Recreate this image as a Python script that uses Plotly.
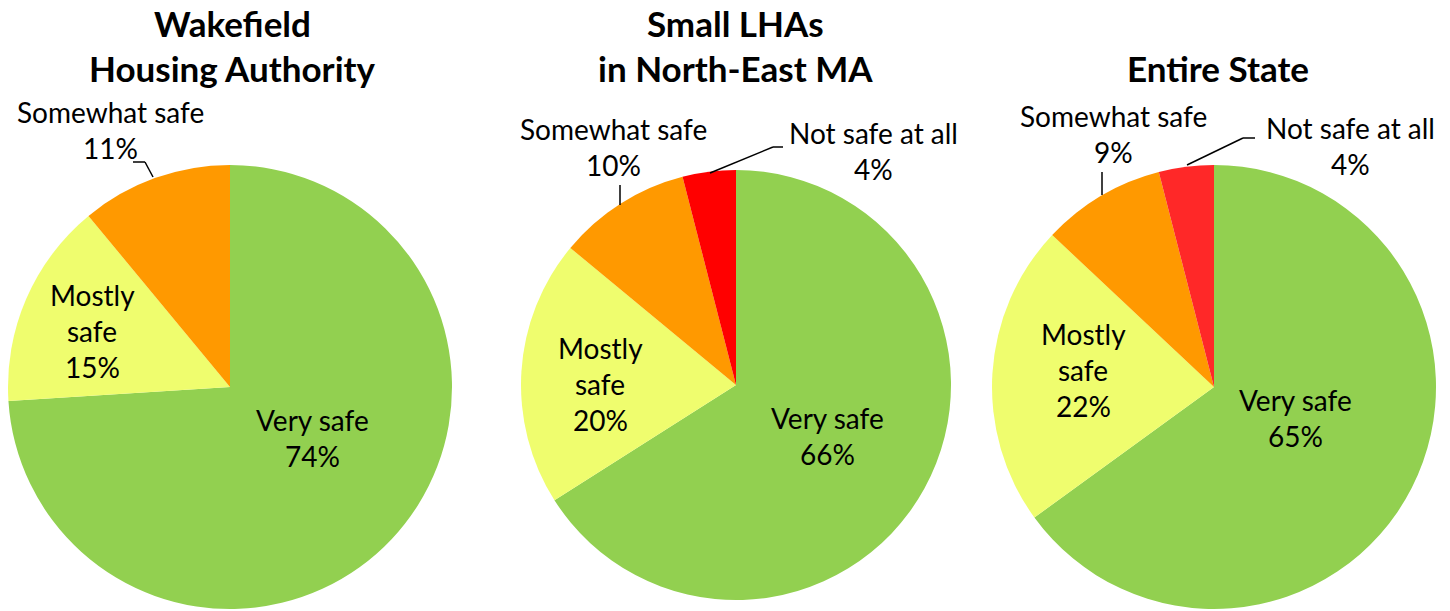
import plotly.graph_objects as go

W, H = 1450, 611
OFF = 0  # body margin removed via post_script

categories = ["Very safe", "Mostly safe", "Somewhat safe", "Not safe at all"]
wakefield = [74, 15, 11, 0]
small_lhas = [66, 20, 10, 4]
entire_state = [65, 22, 9, 4]
titles = [["Wakefield", "Housing Authority"], ["Small LHAs", "in North-East MA"], ["Entire State"]]

colors_a = ["#92D050", "#EFFD6E", "#FF9900", "#FF0000"]
colors_b = ["#92D050", "#EFFD6E", "#FF9900", "#FF2828"]

FONT = "Lato"

def fx(x):
    return min(max((x - OFF) / W, 0), 1)

def fy(y):
    return min(max(1 - (y - OFF) / H, 0), 1)

def px(x, y):
    return fx(x), fy(y)

# pie boxes in screen pixels: (left, right, top, bottom)
boxes = [(7, 453, 165, 609), (521, 951, 170, 600), (992, 1436, 165, 609)]
series = [wakefield, small_lhas, entire_state]
cols = [colors_a, colors_a, colors_b]

fig = go.Figure()
for vals, box, c in zip(series, boxes, cols):
    l, r, t, b = box
    fig.add_trace(go.Pie(
        labels=categories, values=vals, sort=False, direction="clockwise",
        rotation=0, textinfo="none", hoverinfo="label+percent",
        marker=dict(colors=c, line=dict(width=0)),
        domain=dict(x=[fx(l), fx(r)], y=[fy(b), fy(t)]),
        showlegend=False,
    ))

annotations = []

def add_text(txt, x, y, size=28, bold=False):
    xx, yy = px(x, y)
    annotations.append(dict(
        text=f"<b>{txt}</b>" if bold else txt, x=xx, y=yy, xref="paper", yref="paper",
        xanchor="center", yanchor="middle", showarrow=False,
        font=dict(family=FONT, size=size, color="black")))

# titles
title_pos = [(232, [23, 68]), (735, [23, 68]), (1218, [68])]
for lines, (cx, ys) in zip(titles, title_pos):
    for line, y in zip(lines, ys):
        add_text(line, cx, y, size=35, bold=True)

# slice label display lines (label lines + percentage line)
label_lines = {
    "Very safe": ["Very safe"],
    "Mostly safe": ["Mostly", "safe"],
    "Somewhat safe": ["Somewhat safe"],
    "Not safe at all": ["Not safe at all"],
}
# label positions: (x center, y of first line) per pie and category
label_pos = [
    {"Very safe": (312, 420), "Mostly safe": (92, 295), "Somewhat safe": (110, 112)},
    {"Very safe": (827, 418), "Mostly safe": (600, 348), "Somewhat safe": (613, 129), "Not safe at all": (873, 133)},
    {"Very safe": (1295, 400), "Mostly safe": (1083, 334), "Somewhat safe": (1113, 116), "Not safe at all": (1350, 128)},
]
LINE_H = 36
for vals, pos in zip(series, label_pos):
    for cat, v in zip(categories, vals):
        if cat not in pos or v == 0:
            continue
        x, y = pos[cat]
        lines = label_lines[cat] + [f"{v}%"]
        for i, line in enumerate(lines):
            add_text(line, x, y + i * LINE_H)

# leader lines (screen-pixel polylines)
leaders = [
    [(133, 162), (145, 162), (153, 177)],
    [(620, 185), (620, 205)],
    [(783, 147), (773, 147), (710, 173)],
    [(1102, 172), (1102, 195)],
    [(1255, 138), (1243, 138), (1187, 165)],
]
shapes = []
for pts in leaders:
    for (x0, y0), (x1, y1) in zip(pts[:-1], pts[1:]):
        a0, b0 = px(x0, y0)
        a1, b1 = px(x1, y1)
        shapes.append(dict(type="line", xref="paper", yref="paper",
                           x0=a0, y0=b0, x1=a1, y1=b1,
                           line=dict(color="black", width=1.5)))

fig.update_layout(
    width=W, height=H, margin=dict(l=0, r=0, t=0, b=0),
    paper_bgcolor="white", plot_bgcolor="white",
    annotations=annotations, shapes=shapes,
    font=dict(family=FONT),
)

fig.write_html("out.html", config={"displayModeBar": False},
               post_script="document.body.style.margin='0';")
